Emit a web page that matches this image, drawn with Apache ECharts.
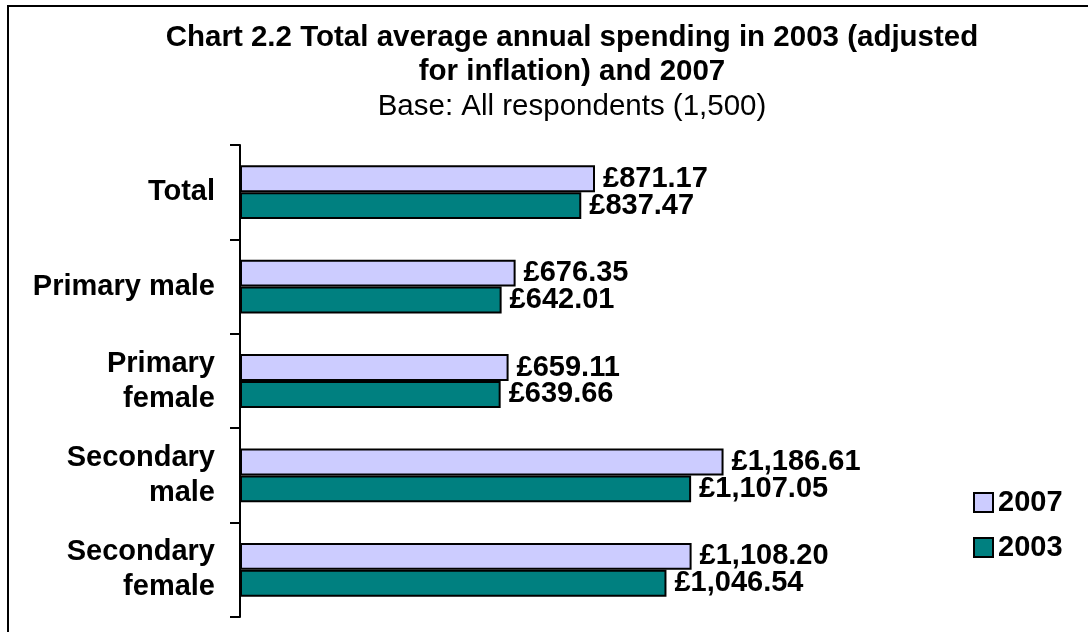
<!DOCTYPE html>
<html><head><meta charset="utf-8">
<script src="https://cdn.jsdelivr.net/npm/echarts@6/dist/echarts.min.js"></script>
<style>html,body{margin:0;padding:0;background:#fff}#c{width:1088px;height:632px}</style>
</head><body><div id="c"></div>
<script>
const categories = ['Total', 'Primary male', 'Primary\nfemale', 'Secondary\nmale', 'Secondary\nfemale'];
const seriesNames = ['2007', '2003'];
const values2007 = [871.17, 676.35, 659.11, 1186.61, 1108.20];
const values2003 = [837.47, 642.01, 639.66, 1107.05, 1046.54];
const titleLines = ['Chart 2.2 Total average annual spending in 2003 (adjusted', 'for inflation) and 2007'];
const subtitle = 'Base: All respondents (1,500)';

const FONT = 'Arial, "Liberation Sans", sans-serif';
function fmt(v){ return '£' + v.toLocaleString('en-GB',{minimumFractionDigits:2, maximumFractionDigits:2}); }

const chart = echarts.init(document.getElementById('c'), null, {renderer:'canvas'});
const lbl = {show:true, position:'right', distance:8, color:'#000', fontFamily:FONT, fontWeight:'bold', fontSize:29,
  formatter: p => fmt(p.value)};
chart.setOption({
  animation:false,
  backgroundColor:'#fff',
  title:{
    text: titleLines.join('\n'), subtext: subtitle, left: 567, textAlign:'center', top: 16, itemGap: 2,
    textStyle:{fontFamily:FONT, fontWeight:'bold', fontSize:29.5, lineHeight:34, color:'#000'},
    subtextStyle:{fontFamily:FONT, fontWeight:'normal', fontSize:29.5, lineHeight:32, color:'#000'}
  },
  legend:{
    orient:'vertical', left: 968, top: 483, itemWidth:19, itemHeight:19, itemGap:16, icon:'rect',
    textStyle:{fontFamily:FONT, fontWeight:'bold', fontSize:29, lineHeight:26, color:'#000'},
    data: seriesNames
  },
  grid:{left:240, top:145, width:815, bottom:15},
  xAxis:{type:'value', min:0, max:2000, show:false},
  yAxis:{type:'category', data:categories, inverse:true,
    axisLine:{show:true, lineStyle:{color:'#000', width:2}},
    axisTick:{show:true, length:10, lineStyle:{color:'#000', width:2}},
    axisLabel:{margin:25, color:'#000', fontFamily:FONT, fontWeight:'bold', fontSize:29, lineHeight:35, align:'right'}
  },
  series:[
    {name:seriesNames[0], type:'bar', data:values2007, barGap:'0%', barCategoryGap:'43%',
     itemStyle:{color:'#CCCCFF', borderColor:'#000', borderWidth:2}, label:lbl},
    {name:seriesNames[1], type:'bar', data:values2003, barGap:'0%', barCategoryGap:'43%',
     itemStyle:{color:'#008080', borderColor:'#000', borderWidth:2}, label:lbl}
  ],
  graphic:[{type:'rect', shape:{x:8, y:6, width:1200, height:700}, style:{fill:null, stroke:'#000', lineWidth:2}, silent:true}]
});
</script></body></html>
